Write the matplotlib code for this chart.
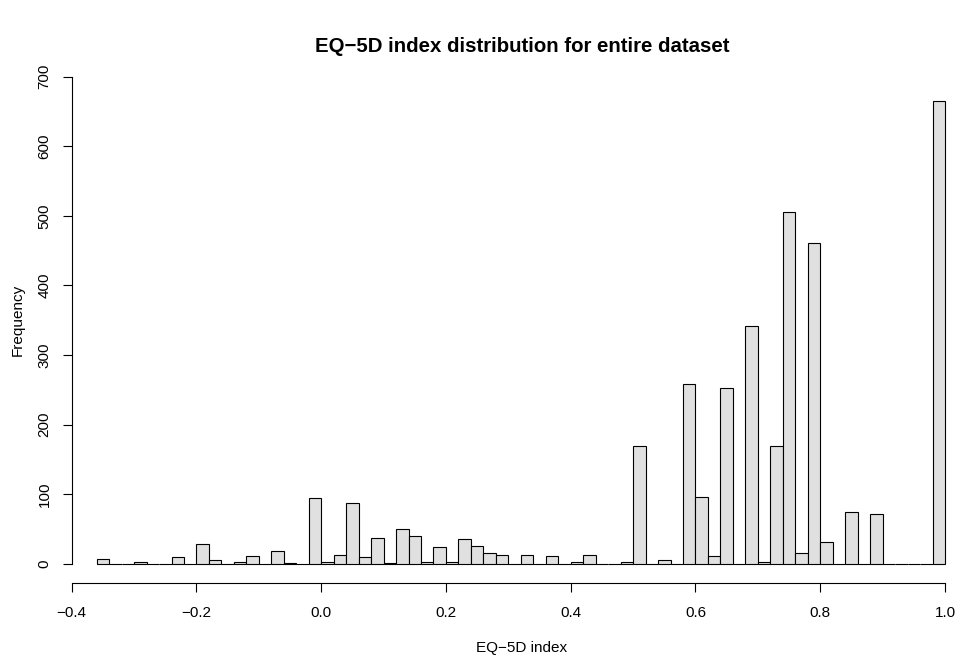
import numpy as np
import matplotlib
matplotlib.use('Agg')
import matplotlib.pyplot as plt

plt.rcParams['font.family'] = ['Liberation Sans', 'DejaVu Sans']

# histogram bins: width 0.02 starting at -0.36
BIN_START = -0.36
BIN_WIDTH = 0.02
counts = [
    7, 0, 0, 3, 0, 0, 10, 0, 28, 5,          # -0.36 .. -0.18
    0, 2, 11, 0, 18, 1, 0, 94, 2, 12,        # -0.16 .. 0.02
    87, 10, 37, 1, 50, 40, 2, 24, 2, 35,     # 0.04 .. 0.22
    25, 16, 13, 0, 12, 0, 11, 0, 2, 12,      # 0.24 .. 0.42
    0, 0, 2, 169, 0, 5, 0, 258, 96, 11,      # 0.44 .. 0.62
    252, 0, 342, 3, 170, 505, 16, 461, 31, 0,  # 0.64 .. 0.82
    75, 0, 71, 0, 0, 0, 0, 665,              # 0.84 .. 0.98
]
x_ticks = [-0.4, -0.2, 0.0, 0.2, 0.4, 0.6, 0.8, 1.0]
y_ticks = [0, 100, 200, 300, 400, 500, 600, 700]

title = 'EQ\u22125D index distribution for entire dataset'
xlabel = 'EQ\u22125D index'
ylabel = 'Frequency'

W, H = 968, 655
fig = plt.figure(figsize=(W / 100, H / 100), dpi=100)
left, right, bottom, top = 71.7, 945, 583.3, 57.2
ax = fig.add_axes([left / W, 1 - bottom / H, (right - left) / W, (bottom - top) / H])

edges = BIN_START + BIN_WIDTH * np.arange(len(counts))
ax.bar(edges, counts, width=BIN_WIDTH, align='edge', color='#e0e0e0',
       edgecolor='black', linewidth=0.8, clip_on=False)

ax.set_xlim(-0.4, 1.0)
ax.set_ylim(-28, 728)
for s in ['top', 'right']:
    ax.spines[s].set_visible(False)
ax.spines['left'].set_bounds(0, 700)
ax.spines['bottom'].set_bounds(-0.4, 1.0)
ax.spines['left'].set_linewidth(0.8)
ax.spines['bottom'].set_linewidth(0.8)

ax.set_xticks(x_ticks)
ax.set_xticklabels(['\u22120.4', '\u22120.2', '0.0', '0.2', '0.4', '0.6', '0.8', '1.0'])
ax.set_yticks(y_ticks)
ax.set_yticklabels([str(v) for v in y_ticks], rotation=90, va='center')
ax.tick_params(axis='both', direction='out', length=6.5, width=0.8, labelsize=11)
ax.tick_params(axis='x', pad=10)
ax.tick_params(axis='y', pad=8)

ax.set_ylabel(ylabel, fontsize=11, labelpad=9)
# title and x label are centred on the wider R plot region
cx = 522 / W
fig.text(cx, 1 - 648 / H, xlabel, ha='center', va='center', fontsize=11)
fig.text(cx, 1 - 47 / H, title, ha='center', va='center',
         fontsize=14.7, fontweight='bold')

fig.savefig('out.png', dpi=100)
